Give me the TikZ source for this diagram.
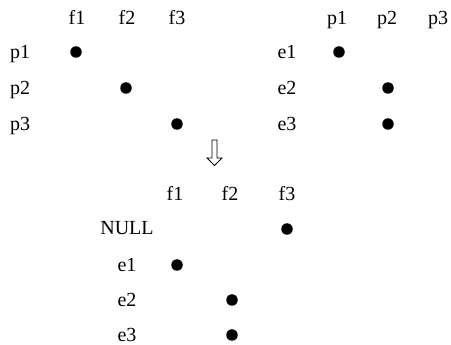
\documentclass[tikz,border=0pt]{standalone}
\usepackage{fontspec}
\setmainfont{Liberation Serif}
\begin{document}
\begin{tikzpicture}[x=1pt,y=-1pt,
  lbl/.style={anchor=base,inner sep=0pt,font=\fontsize{20}{22}\selectfont},
  dot/.style={circle,fill=black,inner sep=0pt,minimum size=11.5pt}]
\useasboundingbox (0,0) rectangle (451,345);
% top-left matrix
\node[lbl] (tlf1) at (77,25) {f1};
\node[lbl] (tlf2) at (127,25) {f2};
\node[lbl] (tlf3) at (177,25) {f3};
\node[lbl] (tlp1) at (20,59) {p1};
\node[lbl] (tlp2) at (20,95) {p2};
\node[lbl] (tlp3) at (20,131) {p3};
\node[dot] (d1) at (76,52) {};
\node[dot] (d2) at (126,88) {};
\node[dot] (d3) at (177,124) {};
% top-right matrix
\node[lbl] (trp1) at (337,25) {p1};
\node[lbl] (trp2) at (387,25) {p2};
\node[lbl] (trp3) at (438,25) {p3};
\node[lbl] (tre1) at (287,59) {e1};
\node[lbl] (tre2) at (287,95) {e2};
\node[lbl] (tre3) at (287,131) {e3};
\node[dot] (d4) at (339,52) {};
\node[dot] (d5) at (388,88) {};
\node[dot] (d6) at (388,124) {};
% arrow
\draw[line width=0.8pt,line join=miter] (212,140) -- (217,140) -- (217,158) -- (222,158) -- (214.5,165.5) -- (207,158) -- (212,158) -- cycle;
% bottom matrix
\node[lbl] (bf1) at (175,201) {f1};
\node[lbl] (bf2) at (230,201) {f2};
\node[lbl] (bf3) at (287,201) {f3};
\node[lbl] (bnull) at (127,235) {NULL};
\node[lbl] (be1) at (127,272) {e1};
\node[lbl] (be2) at (127,307) {e2};
\node[lbl] (be3) at (127,342) {e3};
\node[dot] (d7) at (287,229) {};
\node[dot] (d8) at (177,265) {};
\node[dot] (d9) at (232,300) {};
\node[dot] (d10) at (232,335) {};
\end{tikzpicture}
\end{document}
